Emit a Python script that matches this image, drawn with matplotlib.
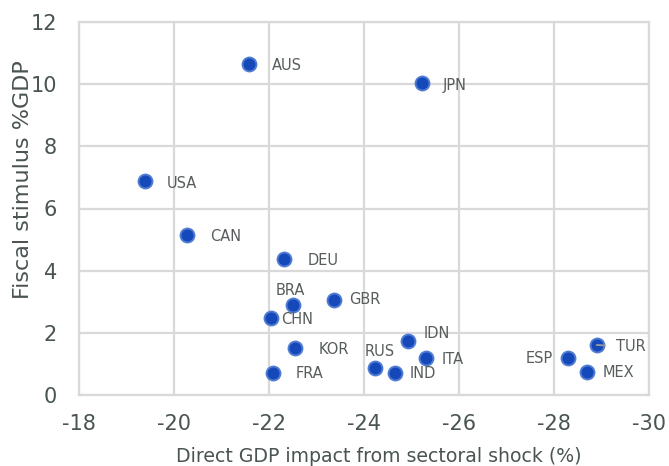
import matplotlib

matplotlib.use("Agg")
import matplotlib.pyplot as plt

# direct GDP impact (%) vs fiscal stimulus (% of GDP)
countries = ["AUS", "JPN", "USA", "CAN", "DEU", "BRA", "GBR", "CHN", "KOR",
             "FRA", "RUS", "IND", "IDN", "ITA", "ESP", "MEX", "TUR"]
gdp_impact = [-21.58, -25.22, -19.39, -20.27, -22.32, -22.50, -23.37, -22.04,
              -22.55, -22.08, -24.23, -24.65, -24.93, -25.31, -28.29, -28.69,
              -28.90]
stimulus = [10.65, 10.03, 6.87, 5.16, 4.39, 2.90, 3.06, 2.48, 1.52, 0.71,
            0.87, 0.71, 1.74, 1.19, 1.19, 0.74, 1.61]

x_ticks = [-18, -20, -22, -24, -26, -28, -30]
y_ticks = [0, 2, 4, 6, 8, 10, 12]

# label placement, offset in pixels from the marker
LABEL_POS = {
    "AUS": (23, -2, "left"), "JPN": (21, -2, "left"), "USA": (22, -2, "left"),
    "CAN": (23, -2, "left"), "DEU": (23, -2, "left"), "BRA": (-2, 14, "center"),
    "GBR": (15, 0, "left"), "CHN": (10, -2, "left"), "KOR": (23, -2, "left"),
    "FRA": (23, -1, "left"), "RUS": (5, 16, "center"), "IND": (15, -1, "left"),
    "IDN": (15, 7, "left"), "ITA": (15, -1, "left"), "ESP": (-15, 0, "right"),
    "MEX": (16, -1, "left"), "TUR": (19, -2, "left"),
}

TICK_COLOR = "#495453"
LABEL_COLOR = "#575c5d"
GRID_COLOR = "#d9d9d9"

plt.rcParams["font.family"] = ["DejaVu Sans"]

fig = plt.figure(figsize=(6.69, 4.66), dpi=100)
ax = fig.add_axes([79 / 669, 71 / 466, 570 / 669, 373 / 466])

ax.scatter(gdp_impact, stimulus, s=100, color="#1548b9", edgecolors="#4f7bd3",
           linewidths=1.4, zorder=3)

for name, x, y in zip(countries, gdp_impact, stimulus):
    dx, dy, ha = LABEL_POS[name]
    kw = {}
    if name == "TUR":
        kw["arrowprops"] = dict(arrowstyle="-", color="#9a9a9a", lw=1.3,
                                shrinkA=6, shrinkB=0)
    ax.annotate(name, (x, y), xytext=(dx, dy), textcoords="offset pixels",
                ha=ha, va="center", fontsize=10.5, color=LABEL_COLOR,
                zorder=4, **kw)

ax.set_xlim(-18, -30)
ax.set_ylim(0, 12)
ax.set_xticks(x_ticks)
ax.set_yticks(y_ticks)
ax.set_xticklabels([str(t) for t in x_ticks])
ax.set_yticklabels([str(t) for t in y_ticks])
ax.grid(True, color=GRID_COLOR, linewidth=1.6, zorder=0)
ax.set_axisbelow(True)
for sp in ax.spines.values():
    sp.set_color(GRID_COLOR)
    sp.set_linewidth(1.6)
ax.tick_params(length=0, labelsize=15, colors=TICK_COLOR)
ax.tick_params(axis="x", pad=14)
ax.tick_params(axis="y", pad=16)

ax.set_xlabel("Direct GDP impact from sectoral shock (%)", fontsize=13.6,
              color=TICK_COLOR)
ax.xaxis.set_label_coords(0.525, -0.14)
# y label sits a bit above the axis middle, overlapping the "10" tick
fig.text(23 / 669, 1 - 180 / 466, "Fiscal stimulus %GDP", rotation=90,
         ha="center", va="center", fontsize=16, color=TICK_COLOR)

fig.savefig("out.png", dpi=100)
